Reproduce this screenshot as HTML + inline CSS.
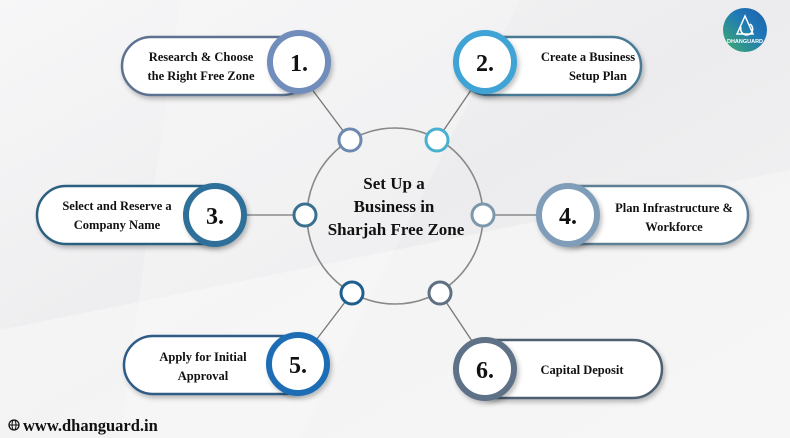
<!DOCTYPE html>
<html><head><meta charset="utf-8"><style>
html,body{margin:0;padding:0;width:790px;height:438px;overflow:hidden;background:#f2f2f3}
svg{display:block}
text{font-family:"Liberation Serif",serif;font-weight:bold;fill:#111}
</style></head><body>
<svg width="790" height="438" viewBox="0 0 790 438" xmlns="http://www.w3.org/2000/svg">
<defs>
<linearGradient id="bg" x1="0" y1="0" x2="1" y2="1">
<stop offset="0" stop-color="#f7f7f8"/><stop offset="0.5" stop-color="#ececee"/><stop offset="1" stop-color="#f5f5f6"/></linearGradient>
<linearGradient id="logo" x1="0" y1="1" x2="1" y2="0">
<stop offset="0" stop-color="#3fae6a"/><stop offset="0.6" stop-color="#1f78b8"/><stop offset="1" stop-color="#1c5fa8"/></linearGradient>
<filter id="sh" x="-20%" y="-30%" width="140%" height="170%"><feDropShadow dx="2" dy="3" stdDeviation="2.5" flood-color="#000" flood-opacity="0.25"/></filter>
</defs>
<rect width="790" height="438" fill="url(#bg)"/>
<polygon points="0,330 790,170 790,438 0,438" fill="#f6f6f7" opacity="0.7"/>
<polygon points="180,0 520,0 300,438 120,438" fill="#fafafa" opacity="0.35"/>

<g stroke="#777" stroke-width="1.3" fill="none">
<line x1="305" y1="80" x2="350" y2="140"/>
<line x1="478" y1="80" x2="437" y2="140"/>
<line x1="245" y1="215" x2="305" y2="215"/>
<line x1="483" y1="215" x2="540" y2="215"/>
<line x1="310" y1="348" x2="352" y2="293"/>
<line x1="478" y1="350" x2="440" y2="293"/>
<circle cx="395" cy="216" r="88" stroke="#888" stroke-width="1.6"/>
</g>
<g fill="#fff" stroke-width="3">
<circle cx="350" cy="140" r="11" stroke="#6c89b0"/>
<circle cx="437" cy="140" r="11" stroke="#4ab0cf"/>
<circle cx="305" cy="215" r="11" stroke="#3a6f8f"/>
<circle cx="483" cy="215" r="11" stroke="#7c98aa"/>
<circle cx="352" cy="293" r="11" stroke="#1f5f90"/>
<circle cx="440" cy="293" r="11" stroke="#5f7080"/>
</g>
<text font-size="17" text-anchor="middle"><tspan x="394" y="189">Set Up a</tspan><tspan x="394" y="212">Business in</tspan><tspan x="396" y="235">Sharjah Free Zone</tspan></text>

<g filter="url(#sh)">
<rect x="122" y="37" width="190" height="58" rx="29" fill="#fff" stroke="#5d7290" stroke-width="2.5"/>
<rect x="459" y="37" width="182" height="58" rx="29" fill="#fff" stroke="#4a7a95" stroke-width="2.5"/>
<rect x="37" y="186" width="200" height="58" rx="29" fill="#fff" stroke="#2c5f7e" stroke-width="2.5"/>
<rect x="548" y="186" width="200" height="58" rx="29" fill="#fff" stroke="#5d7e94" stroke-width="2.5"/>
<rect x="124" y="336" width="190" height="58" rx="29" fill="#fff" stroke="#2d5b86" stroke-width="2.5"/>
<rect x="468" y="340" width="194" height="58" rx="29" fill="#fff" stroke="#4d5f70" stroke-width="2.5"/>
</g>
<g fill="#fff" stroke-width="6" filter="url(#sh)">
<circle cx="299" cy="62" r="29" stroke="#6f8dbc"/>
<circle cx="485" cy="62" r="29" stroke="#3fa3d6"/>
<circle cx="215" cy="215" r="29" stroke="#2e6f99"/>
<circle cx="568" cy="215" r="29" stroke="#7f9db8"/>
<circle cx="298" cy="364" r="29" stroke="#1f6db4"/>
<circle cx="485" cy="369" r="29" stroke="#5e7186"/>
</g>
<g font-size="24" text-anchor="middle">
<text x="299" y="71">1.</text><text x="485" y="71">2.</text><text x="215" y="224">3.</text>
<text x="568" y="224">4.</text><text x="298" y="373">5.</text><text x="485" y="378">6.</text>
</g>
<g font-size="12.5" text-anchor="middle">
<text x="201" y="61">Research &amp; Choose</text><text x="201" y="80">the Right Free Zone</text>
<text x="588" y="61">Create a Business</text><text x="598" y="80">Setup Plan</text>
<text x="117" y="210">Select and Reserve a</text><text x="117" y="229">Company Name</text>
<text x="674" y="212">Plan Infrastructure &amp;</text><text x="674" y="231">Workforce</text>
<text x="203" y="361">Apply for Initial</text><text x="203" y="380">Approval</text>
<text x="582" y="374">Capital Deposit</text>
</g>

<circle cx="745" cy="30" r="22" fill="url(#logo)"/>
<path d="M737 34 L745 16 L753 34 Z M741 27 A6 6 0 1 0 750 24" fill="none" stroke="#fff" stroke-width="1.5"/>
<text x="745" y="43" font-size="5.5" text-anchor="middle" style="fill:#fff;font-family:'Liberation Sans',sans-serif">DHANGUARD</text>

<circle cx="14" cy="425" r="5" fill="none" stroke="#111" stroke-width="1.3"/>
<line x1="9" y1="425" x2="19" y2="425" stroke="#111" stroke-width="1"/>
<ellipse cx="14" cy="425" rx="2" ry="5" fill="none" stroke="#111" stroke-width="1"/>
<text x="23" y="431" font-size="16.5">www.dhanguard.in</text>
</svg>
</body></html>
